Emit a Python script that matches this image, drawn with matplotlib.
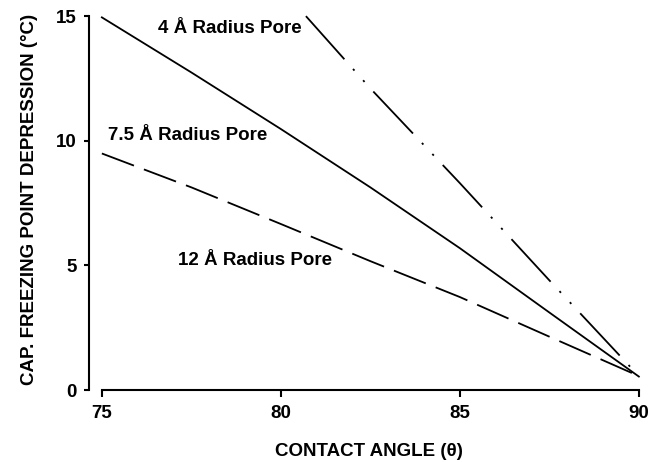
import numpy as np
import matplotlib.pyplot as plt

plt.rcParams['font.family'] = ['Liberation Sans', 'DejaVu Sans']
plt.rcParams['font.weight'] = 'bold'

angle_4 = [80.7, 82.5, 85.0, 87.5, 90.0]
dT_4 = [15.0, 12.1, 8.3, 4.4, 0.56]

angle_75 = [75.0, 77.5, 80.0, 82.5, 85.0, 87.5, 90.0]
dT_75 = [14.95, 12.74, 10.47, 8.13, 5.69, 3.11, 0.54]

angle_12 = [75.0, 77.5, 80.0, 82.5, 85.0, 87.5, 90.0]
dT_12 = [9.49, 8.13, 6.66, 5.17, 3.73, 2.14, 0.56]

xticks = [75, 80, 85, 90]
yticks = [0, 5, 10, 15]

fig = plt.figure(figsize=(6.63, 4.62), dpi=100)
ax = fig.add_axes([0.1342, 0.1558, 0.8456, 0.8255])

lw = 1.3
ax.plot(angle_4, dT_4, color='black', lw=lw, dash_capstyle='butt',
        linestyle=(0, (32, 7.2, 1.2, 7.2, 1.2, 7.2)))
ax.plot(angle_75, dT_75, color='black', lw=lw, linestyle='-')
ax.plot(angle_12, dT_12, color='black', lw=lw,
        linestyle=(0, (19, 5.9)))

fs = 13.5
ax.text(78.58, 14.52, '4 Å Radius Pore', ha='center', va='center', fontsize=fs, fontweight='bold')
ax.text(77.39, 10.23, '7.5 Å Radius Pore', ha='center', va='center', fontsize=fs, fontweight='bold')
ax.text(79.29, 5.21, '12 Å Radius Pore', ha='center', va='center', fontsize=fs, fontweight='bold')

ax.set_xlim(74.64, 90.3)
ax.set_ylim(0, 15.3)
ax.spines['top'].set_visible(False)
ax.spines['right'].set_visible(False)
ax.spines['left'].set_bounds(0, 15)
ax.spines['bottom'].set_bounds(75, 90)
for s in ['left', 'bottom']:
    ax.spines[s].set_linewidth(1.5)

ax.set_xticks(xticks)
ax.set_yticks(yticks)
ax.tick_params(axis='x', length=5, width=1.5, pad=6, labelsize=fs)
ax.tick_params(axis='y', length=3.5, width=1.5, pad=5.5, labelsize=fs)
for lab in ax.get_xticklabels() + ax.get_yticklabels():
    lab.set_fontweight('bold')

ax.set_xlabel('CONTACT ANGLE (θ)', fontsize=fs, fontweight='bold', labelpad=15)
ax.set_ylabel('CAP. FREEZING POINT DEPRESSION (°C)', fontsize=fs, fontweight='bold', labelpad=13)

fig.savefig('out.png', dpi=100)
